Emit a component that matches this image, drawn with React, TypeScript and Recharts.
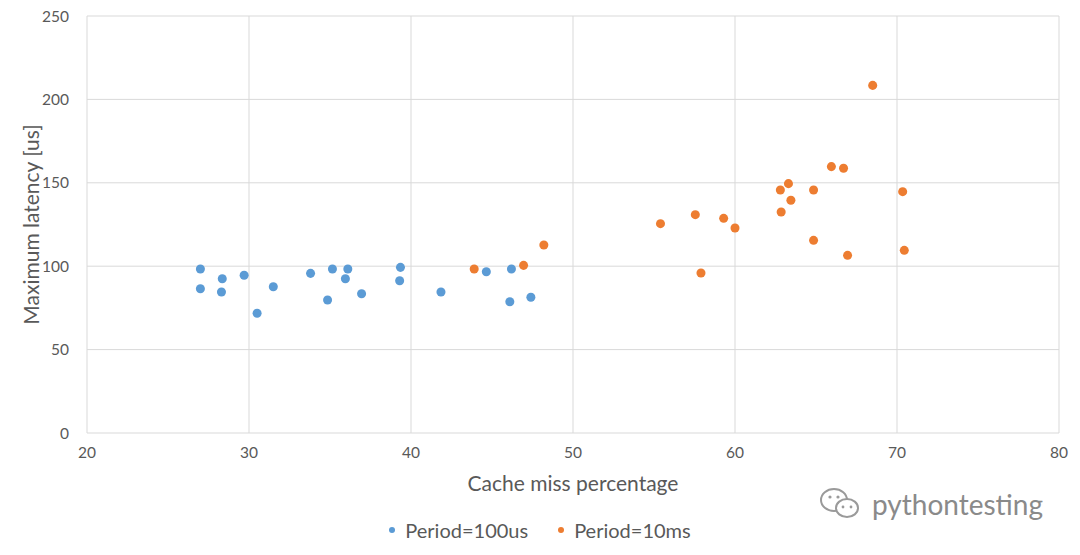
import { ScatterChart, Scatter, XAxis, YAxis, ZAxis, CartesianGrid, Legend, Label } from 'recharts';

// Cache miss % vs. max latency
const missFast = [27.0, 27.0, 28.35, 28.3, 29.7, 30.5, 31.5, 33.8, 34.85, 35.15, 35.95, 36.1, 36.95, 39.3, 39.35, 41.85, 44.65, 46.1, 46.2, 47.4];
const latencyFast = [98.3, 86.5, 92.5, 84.5, 94.6, 71.8, 87.7, 95.7, 79.7, 98.3, 92.5, 98.3, 83.5, 91.3, 99.3, 84.5, 96.7, 78.7, 98.3, 81.4];

const missSlow = [43.9, 46.95, 48.2, 55.4, 57.55, 57.9, 59.3, 60.0, 62.8, 62.85, 63.3, 63.45, 64.85, 64.85, 65.95, 66.7, 66.95, 68.5, 70.35, 70.45];
const latencySlow = [98.3, 100.5, 112.7, 125.5, 130.9, 95.9, 128.7, 122.9, 145.7, 132.5, 149.5, 139.5, 145.7, 115.5, 159.7, 158.7, 106.5, 208.4, 144.7, 109.5];

const xTicks = [20, 30, 40, 50, 60, 70, 80];
const yTicks = [0, 50, 100, 150, 200, 250];

const SERIES = [
  { name: 'Period=100us', color: '#5B9BD5', xs: missFast, ys: latencyFast },
  { name: 'Period=10ms', color: '#ED7D31', xs: missSlow, ys: latencySlow },
];

const FONT = 'Lato, "Liberation Sans", sans-serif';
const TEXT = '#595959';
const GRID = '#d9d9d9';

const toPoints = (xs: number[], ys: number[]) => xs.map((x, i) => ({ x, y: ys[i] }));

function LegendRow() {
  return (
    <div style={{ height: 30, display: 'flex', justifyContent: 'center', alignItems: 'center', gap: 30, fontFamily: FONT, fontSize: 20, color: TEXT, paddingLeft: 4 }}>
      {SERIES.map((s) => (
        <span key={s.name} style={{ display: 'flex', alignItems: 'center', gap: 10 }}>
          <span style={{ width: 6, height: 6, borderRadius: 3, background: s.color, display: 'inline-block' }} />
          {s.name}
        </span>
      ))}
    </div>
  );
}

export default function App() {
  return (
    <div style={{ position: 'absolute', left: 0, top: 0, width: 1080, height: 555, background: '#fff' }}>
      <ScatterChart width={1080} height={555} margin={{ top: 16, right: 21, bottom: 10, left: 17 }}>
        <CartesianGrid stroke={GRID} strokeWidth={1} />
        <XAxis
          type="number"
          dataKey="x"
          domain={[20, 80]}
          ticks={xTicks}
          axisLine={false}
          tickLine={false}
          tickMargin={8}
          height={82}
          tick={{ fill: TEXT, fontSize: 15.5, fontFamily: FONT }}
        >
          <Label
            content={({ viewBox }: any) => (
              <text x={viewBox.x + viewBox.width / 2} y={viewBox.y + 58} textAnchor="middle" fill={TEXT} fontSize={21} fontFamily={FONT}>
                Cache miss percentage
              </text>
            )}
          />
        </XAxis>
        <YAxis
          type="number"
          dataKey="y"
          domain={[0, 250]}
          ticks={yTicks}
          axisLine={false}
          tickLine={false}
          tickMargin={12}
          width={70}
          tick={{ fill: TEXT, fontSize: 15.5, fontFamily: FONT }}
        >
          <Label
            content={({ viewBox }: any) => {
              const cy = viewBox.y + viewBox.height / 2;
              return (
                <text x={30} y={cy} transform={`rotate(-90, 30, ${cy})`} textAnchor="middle" dominantBaseline="central" fill={TEXT} fontSize={21} fontFamily={FONT}>
                  Maximum latency [us]
                </text>
              );
            }}
          />
        </YAxis>
        <ZAxis range={[36, 36]} />
        <Legend verticalAlign="bottom" content={() => <LegendRow />} />
        {SERIES.map((s) => (
          <Scatter key={s.name} name={s.name} data={toPoints(s.xs, s.ys)} fill={s.color} isAnimationActive={false} />
        ))}
      </ScatterChart>
      {/* watermark in the lower right corner */}
      <div style={{ position: 'absolute', left: 818, top: 486, display: 'flex', alignItems: 'center', gap: 8, color: '#8a8a8a', fontFamily: FONT, fontSize: 28 }}>
        <svg width={46} height={36} viewBox="0 0 46 36">
          <ellipse cx={16} cy={14} rx={13} ry={11} fill="none" stroke="#9a9a9a" strokeWidth={2} />
          <ellipse cx={29} cy={22} rx={11} ry={9} fill="#fff" stroke="#9a9a9a" strokeWidth={2} />
          <circle cx={12} cy={11} r={1.6} fill="#9a9a9a" />
          <circle cx={20} cy={11} r={1.6} fill="#9a9a9a" />
          <circle cx={25} cy={21} r={1.4} fill="#9a9a9a" />
          <circle cx={33} cy={21} r={1.4} fill="#9a9a9a" />
        </svg>
        <span>pythontesting</span>
      </div>
    </div>
  );
}
